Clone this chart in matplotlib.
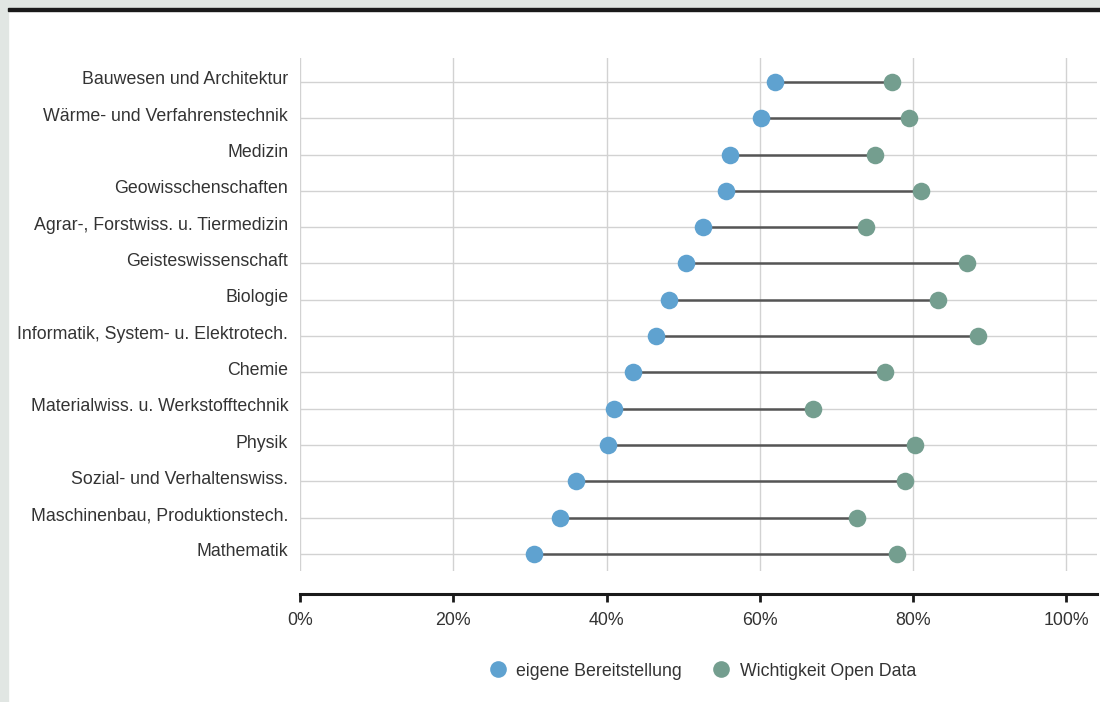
import matplotlib.pyplot as plt
from matplotlib.patches import Rectangle
from matplotlib.lines import Line2D
from matplotlib.transforms import ScaledTranslation
import numpy as np

plt.rcParams['font.family'] = ['Liberation Sans', 'DejaVu Sans']

categories = ["Bauwesen und Architektur", "Wärme- und Verfahrenstechnik", "Medizin",
              "Geowisschenschaften", "Agrar-, Forstwiss. u. Tiermedizin",
              "Geisteswissenschaft", "Biologie", "Informatik, System- u. Elektrotech.",
              "Chemie", "Materialwiss. u. Werkstofftechnik", "Physik",
              "Sozial- und Verhaltenswiss.", "Maschinenbau, Produktionstech.", "Mathematik"]
eigene = [62.0, 60.1, 56.1, 55.6, 52.6, 50.4, 48.1, 46.5, 43.4, 41.0, 40.2, 36.0, 33.9, 30.5]
wichtig = [77.2, 79.5, 75.0, 81.0, 73.8, 87.0, 83.2, 88.5, 76.3, 67.0, 80.2, 79.0, 72.7, 77.9]
ticks = [0, 20, 40, 60, 80, 100]

blue = '#5fa2d0'
green = '#749e8f'
text_col = '#333333'
fs = 12.8

W, H = 1100, 702
fig = plt.figure(figsize=(W / 100, H / 100), dpi=100)
fig.patch.set_facecolor('white')

# frame decoration: gray strips left/top and dark rule
fig.patches.append(Rectangle((0, 0), 8 / W, 1, transform=fig.transFigure, color='#e1e6e3', zorder=0))
fig.patches.append(Rectangle((0, 1 - 8 / H), 1, 8 / H, transform=fig.transFigure, color='#e1e6e3', zorder=0))
fig.patches.append(Rectangle((8 / W, 1 - 11 / H), 1, 3 / H, transform=fig.transFigure, color='#1a1a1a', zorder=1))

left, right, top, bottom = 300, 1097, 58, 571
ax = fig.add_axes([left / W, 1 - bottom / H, (right - left) / W, (bottom - top) / H])

for s in ['top', 'right', 'left']:
    ax.spines[s].set_visible(False)
ax.spines['bottom'].set_position(('outward', 23 * 0.72))
ax.spines['bottom'].set_linewidth(2.2)
ax.spines['bottom'].set_color('#1a1a1a')

y = np.arange(len(categories))
ax.set_xlim(0, 104)
ax.set_ylim(len(categories) - 1 + 0.47, -0.66)

for t in ticks:
    ax.axvline(t, color='#d2d2d2', lw=1, zorder=0)
for yi in y:
    ax.axhline(yi, color='#d2d2d2', lw=1, zorder=0)

ax.hlines(y, eigene, wichtig, color='#555555', lw=1.8, zorder=2)
ax.scatter(eigene, y, s=160, color=blue, zorder=3, linewidths=0)
ax.scatter(wichtig, y, s=160, color=green, zorder=3, linewidths=0)

ax.set_yticks(y)
ax.set_yticklabels(categories, fontsize=fs, color=text_col)
ax.tick_params(axis='y', length=0, pad=8.5)
# labels sit slightly above their row line
shift = ScaledTranslation(0, 4 / 100, fig.dpi_scale_trans)
for lab in ax.get_yticklabels():
    lab.set_transform(lab.get_transform() + shift)

ax.set_xticks(ticks)
ax.set_xticklabels([f"{t}%" for t in ticks], fontsize=fs, color=text_col)
ax.tick_params(axis='x', length=6, width=2, color='#1a1a1a', pad=7)

handles = [Line2D([], [], marker='o', ls='', color=blue, markersize=12, markeredgewidth=0),
           Line2D([], [], marker='o', ls='', color=green, markersize=12, markeredgewidth=0)]
fig.legend(handles, ["eigene Bereitstellung", "Wichtigkeit Open Data"],
           loc='center', bbox_to_anchor=(698 / W, 1 - 671 / H), ncol=2, frameon=False,
           fontsize=fs, handletextpad=0.05, columnspacing=1.2, labelcolor=text_col)

fig.savefig('out.png', dpi=100)
